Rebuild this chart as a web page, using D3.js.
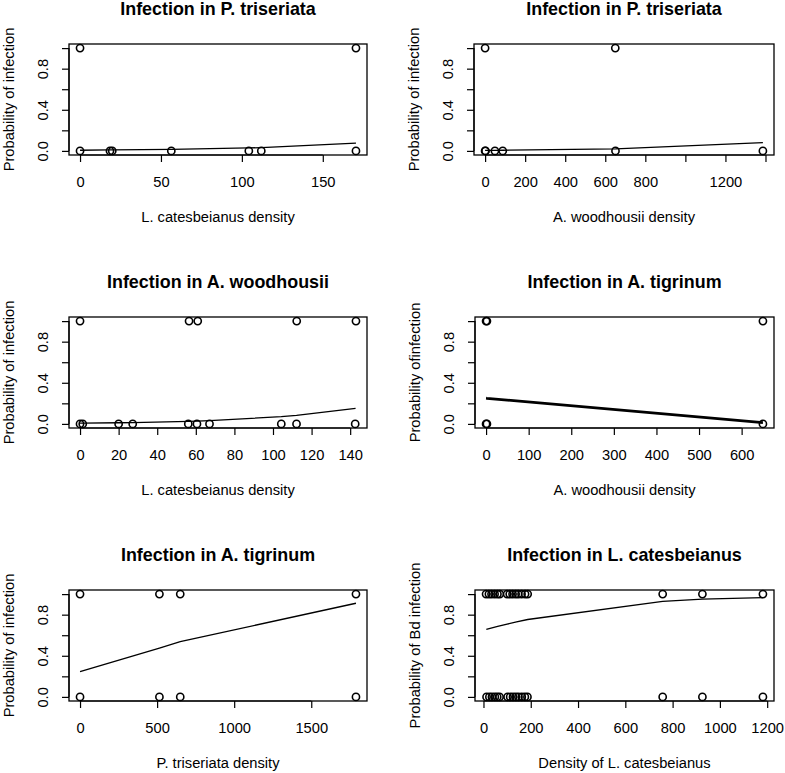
<!DOCTYPE html>
<html><head><meta charset="utf-8">
<script src="https://cdn.jsdelivr.net/npm/d3@7"></script>
<style>
body{margin:0;background:#fff}
text{font-family:"Liberation Sans",Arial,Helvetica,sans-serif;fill:#000}
</style>
</head><body>
<svg id="c" width="785" height="773"></svg>
<script>
// ---------- data ----------
const titles = ["Infection in P. triseriata","Infection in P. triseriata","Infection in A. woodhousii",
                "Infection in A. tigrinum","Infection in A. tigrinum","Infection in L. catesbeianus"];
const xLabels = ["L. catesbeianus density","A. woodhousii density","L. catesbeianus density",
                 "A. woodhousii density","P. triseriata density","Density of L. catesbeianus"];
const yLabels = ["Probability of infection","Probability of infection","Probability of infection",
                 "Probability ofinfection","Probability of infection","Probability of Bd infection"];
const yTicks = [0,0.2,0.4,0.6,0.8,1.0];
const yTickLabels = ["0.0","","0.4","","0.8",""];

// panel 1
const p1X = [0,170.5, 0,18.5,19.9,56.4,104.3,112,170.5];
const p1Y = [1,1, 0,0,0,0,0,0,0];
const p1FitX = [0,18.5,19.9,56.4,104.3,112,170.5];
const p1FitY = [0.006,0.009,0.009,0.014,0.029,0.032,0.075];
const p1Ticks = [0,50,100,150];
const p1TickLabels = ["0","50","100","150"];
// panel 2
const p2X = [0,650, 0,2,49,88,651,1387];
const p2Y = [1,1, 0,0,0,0,0,0];
const p2FitX = [0,2,49,88,651,1387];
const p2FitY = [0.005,0.005,0.0057,0.0062,0.019,0.08];
const p2Ticks = [0,200,400,600,800,1000,1200,1400];
const p2TickLabels = ["0","200","400","600","800","","1200",""];
// panel 3
const p3X = [0,56.5,61,112.3,143, 0,1.4,20,27.3,56.1,60.6,67.1,104.3,112.2,142.6];
const p3Y = [1,1,1,1,1, 0,0,0,0,0,0,0,0,0,0];
const p3FitX = [0,1.4,20,27.3,56.3,60.8,67.1,104.3,112.2,142.8];
const p3FitY = [0.007,0.0073,0.011,0.013,0.025,0.027,0.031,0.070,0.082,0.15];
const p3Ticks = [0,20,40,60,80,100,120,140];
const p3TickLabels = ["0","20","40","60","80","100","120","140"];
// panel 4
const p4X = [0,2,650, 0,2,650];
const p4Y = [1,1,1, 0,0,0];
const p4FitX = [0,2,650];
const p4FitY = [0.25,0.249,0.012];
const p4Ticks = [0,100,200,300,400,500,600];
const p4TickLabels = ["0","100","200","300","400","500","600"];
// panel 5
const p5X = [0,515,650,1790, 0,515,650,1790];
const p5Y = [1,1,1,1, 0,0,0,0];
const p5FitX = [0,515,650,1790];
const p5FitY = [0.246,0.475,0.538,0.911];
const p5Ticks = [0,500,1000,1500];
const p5TickLabels = ["0","500","1000","1500"];
// panel 6
const p6X = [11,23,34,47,59,69,100,111,123,136,147,161,176,187,758,926,1182,
             13,25,36,48,58,68,102,113,125,137,148,162,175,186,758,926,1182];
const p6Y = [1,1,1,1,1,1,1,1,1,1,1,1,1,1,1,1,1,
             0,0,0,0,0,0,0,0,0,0,0,0,0,0,0,0,0];
const p6FitX = [12,60,100,140,187,758,926,1182];
const p6FitY = [0.658,0.686,0.708,0.729,0.753,0.93,0.951,0.965];
const p6Ticks = [0,200,400,600,800,1000,1200];
const p6TickLabels = ["0","200","400","600","800","1000","1200"];

// ---------- layout ----------
const boxes = [
  {l:69,r:367,t:44,b:155},{l:474,r:774,t:44,b:155},
  {l:69,r:367,t:317,b:428},{l:475,r:774,t:317,b:428},
  {l:69,r:367,t:590,b:701},{l:475,r:774,t:590,b:701}
];
const panels = [
  {x:p1X,y:p1Y,fx:p1FitX,fy:p1FitY,ticks:p1Ticks,tl:p1TickLabels,lw:1.3},
  {x:p2X,y:p2Y,fx:p2FitX,fy:p2FitY,ticks:p2Ticks,tl:p2TickLabels,lw:1.3},
  {x:p3X,y:p3Y,fx:p3FitX,fy:p3FitY,ticks:p3Ticks,tl:p3TickLabels,lw:1.3},
  {x:p4X,y:p4Y,fx:p4FitX,fy:p4FitY,ticks:p4Ticks,tl:p4TickLabels,lw:2.8},
  {x:p5X,y:p5Y,fx:p5FitX,fy:p5FitY,ticks:p5Ticks,tl:p5TickLabels,lw:1.3},
  {x:p6X,y:p6Y,fx:p6FitX,fy:p6FitY,ticks:p6Ticks,tl:p6TickLabels,lw:1.3}
];
const FONT = '"Liberation Sans",Arial,Helvetica,sans-serif';
const LAB = "14.7px", TITLE = "17.9px";

const svg = d3.select("#c");
svg.append("rect").attr("width",785).attr("height",773).attr("fill","#fff");

panels.forEach((p,i)=>{
  const b = boxes[i];
  const [mn,mx] = d3.extent(p.x);
  const pad = 0.04*(mx-mn);
  const xs = d3.scaleLinear().domain([mn-pad,mx+pad]).range([b.l,b.r]);
  const ys = d3.scaleLinear().domain([-0.04,1.04]).range([b.b,b.t]);
  const g = svg.append("g");

  g.append("path")
    .datum(d3.zip(p.fx,p.fy))
    .attr("d",d3.line().x(d=>xs(d[0])).y(d=>ys(d[1])))
    .attr("fill","none").attr("stroke","#000").attr("stroke-width",p.lw);

  g.selectAll("circle.pt").data(d3.zip(p.x,p.y)).join("circle")
    .attr("class","pt")
    .attr("cx",d=>xs(d[0])).attr("cy",d=>ys(d[1])).attr("r",3.6)
    .attr("fill","none").attr("stroke","#000").attr("stroke-width",1.6);

  g.append("rect").attr("x",b.l).attr("y",b.t).attr("width",b.r-b.l).attr("height",b.b-b.t)
    .attr("fill","none").attr("stroke","#000").attr("stroke-width",1.3);

  const xa = g.append("g").attr("transform",`translate(0,${b.b})`)
    .call(d3.axisBottom(xs).tickValues(p.ticks).tickSize(7)
      .tickFormat((d,k)=>p.tl[k]));
  xa.select(".domain").remove();
  xa.append("line").attr("x1",xs(p.ticks[0])).attr("x2",xs(p.ticks[p.ticks.length-1]))
    .attr("stroke","#000").attr("stroke-width",1.2);
  xa.selectAll(".tick line").attr("stroke","#000").attr("stroke-width",1.2);
  xa.selectAll(".tick text").attr("y",27).attr("dy","0.35em").attr("fill","#000")
    .style("font-size",LAB).style("font-family",FONT);

  const ya = g.append("g").attr("transform",`translate(${b.l},0)`)
    .call(d3.axisLeft(ys).tickValues(yTicks).tickSize(7)
      .tickFormat((d,k)=>yTickLabels[k]));
  ya.select(".domain").remove();
  ya.append("line").attr("y1",ys(yTicks[0])).attr("y2",ys(yTicks[yTicks.length-1]))
    .attr("stroke","#000").attr("stroke-width",1.2);
  ya.selectAll(".tick line").attr("stroke","#000").attr("stroke-width",1.2);
  ya.selectAll(".tick text").attr("x",null).attr("dy","0.35em").attr("fill","#000")
    .attr("transform","translate(-26,0) rotate(-90)").attr("text-anchor","middle")
    .style("font-size",LAB).style("font-family",FONT);

  g.append("text").attr("x",(b.l+b.r)/2).attr("y",b.t-35).attr("dy","0.35em")
    .attr("text-anchor","middle").style("font-size",TITLE).style("font-weight","bold")
    .text(titles[i]);
  g.append("text").attr("x",(b.l+b.r)/2).attr("y",b.b+62).attr("dy","0.35em")
    .attr("text-anchor","middle").style("font-size",LAB).text(xLabels[i]);
  g.append("text").attr("transform",`translate(${b.l-60.5},${(b.t+b.b)/2}) rotate(-90)`)
    .attr("dy","0.35em").attr("text-anchor","middle").style("font-size",LAB).text(yLabels[i]);
});
</script>
</body></html>
